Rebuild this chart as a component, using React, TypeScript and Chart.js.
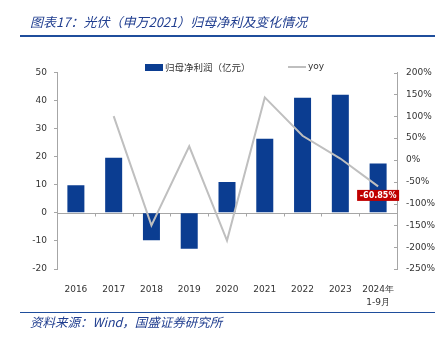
import React, { useEffect, useRef } from "react";
import { Chart, registerables } from "chart.js";

Chart.register(...registerables);

const categories: (string | string[])[] = [
  "2016", "2017", "2018", "2019", "2020", "2021", "2022", "2023", ["2024年", "1-9月"],
];
const profit = [9.8, 19.6, -9.8, -12.8, 11.0, 26.4, 41.0, 42.1, 17.6];
const yoy: (number | null)[] = [null, 100, -150, 31, -185, 143, 55, 3, -60.85];
const lastLabel = "-60.85%";

const BAR = "#0B3D91";
const AXIS = "#A6A6A6";
const TXT = "#333333";
const TICKF = { family: "DejaVu Sans", size: 9 };

const decorPlugin = {
  id: "decor",
  beforeDatasetsDraw(chart: any) {
    const { ctx, chartArea, scales } = chart;
    const y0 = Math.round(scales.y.getPixelForValue(0)) + 0.5;
    ctx.save();
    ctx.strokeStyle = AXIS;
    ctx.lineWidth = 1;
    ctx.beginPath();
    ctx.moveTo(chartArea.left, y0);
    ctx.lineTo(chartArea.right, y0);
    const n = categories.length;
    const step = (chartArea.right - chartArea.left) / n;
    for (let k = 1; k < n; k++) {
      const x = Math.round(chartArea.left + step * k) + 0.5;
      ctx.moveTo(x, y0);
      ctx.lineTo(x, y0 + 3);
    }
    // inward ticks on right axis
    const y1 = scales.y1;
    y1.ticks.forEach((t: any) => {
      const yy = Math.round(y1.getPixelForValue(t.value)) + 0.5;
      ctx.moveTo(chartArea.right - 3, yy);
      ctx.lineTo(chartArea.right, yy);
    });
    ctx.stroke();
    ctx.restore();
  },
  afterDatasetsDraw(chart: any) {
    const { ctx } = chart;
    const meta = chart.getDatasetMeta(1);
    const pt = meta.data[meta.data.length - 1];
    if (!pt) return;
    const w = 42, h = 11;
    const x = pt.x - w / 2;
    const y = pt.y + 3.5;
    ctx.save();
    ctx.fillStyle = "#C00000";
    ctx.fillRect(x, y, w, h);
    ctx.fillStyle = "#FFFFFF";
    ctx.font = "bold 8px 'DejaVu Sans'";
    ctx.textAlign = "center";
    ctx.textBaseline = "middle";
    ctx.fillText(lastLabel, pt.x, y + h / 2 + 0.5);
    ctx.restore();
  },
};

export default function App() {
  const ref = useRef<HTMLCanvasElement>(null);
  useEffect(() => {
    if (!ref.current) return;
    const chart = new Chart(ref.current, {
      type: "bar",
      data: {
        labels: categories as any,
        datasets: [
          {
            type: "bar",
            label: "归母净利润（亿元）",
            data: profit,
            backgroundColor: BAR,
            yAxisID: "y",
            barPercentage: 0.45,
            categoryPercentage: 1,
            order: 1,
          },
          {
            type: "line",
            label: "yoy",
            data: yoy as any,
            borderColor: "#BFBFBF",
            borderWidth: 2,
            pointRadius: 0,
            tension: 0,
            yAxisID: "y1",
            order: 0,
          },
        ],
      },
      options: {
        responsive: false,
        animation: false,
        layout: { padding: { top: 72.5, left: 0, right: 0, bottom: 0 } },
        plugins: { legend: { display: false }, tooltip: { enabled: false }, title: { display: false } },
        scales: {
          x: {
            grid: { display: false },
            border: { display: false },
            ticks: { font: { ...TICKF, lineHeight: 1.45 }, color: TXT, padding: 6, maxRotation: 0, autoSkip: false },
            afterFit: (s: any) => { s.height = 69; },
          },
          y: {
            position: "left",
            min: -20,
            max: 50,
            ticks: { stepSize: 10, font: TICKF, color: TXT, padding: 7 },
            grid: { drawOnChartArea: false, tickLength: 3, color: AXIS },
            border: { color: AXIS },
            afterFit: (s: any) => { s.width = 57; },
          },
          y1: {
            position: "right",
            min: -250,
            max: 200,
            ticks: { stepSize: 50, font: TICKF, color: TXT, padding: 9, callback: (v: any) => v + "%" },
            grid: { drawOnChartArea: false, drawTicks: false, color: AXIS },
            border: { color: AXIS },
            afterFit: (s: any) => { s.width = 43; },
          },
        },
      },
      plugins: [decorPlugin],
    });
    return () => chart.destroy();
  }, []);

  const blue = "#1F3D8F";
  return (
    <div style={{ position: "fixed", left: 0, top: 0, width: 440, height: 338, background: "#fff", overflow: "hidden" }}>
      <canvas ref={ref} width={440} height={338} style={{ position: "absolute", left: 0, top: 0 }} />
      <div style={{ position: "absolute", left: 30, top: 13, fontFamily: "'Noto Sans CJK SC'", fontStyle: "italic", fontSize: 13, lineHeight: "18px", color: blue, whiteSpace: "nowrap" }}>
        图表17：光伏（申万2021）归母净利及变化情况
      </div>
      <div style={{ position: "absolute", left: 20, top: 35, width: 415, height: 1.5, background: "#1F4E9C" }} />
      <div style={{ position: "absolute", left: 145, top: 64, width: 18, height: 6.5, background: BAR }} />
      <div style={{ position: "absolute", left: 165, top: 60, fontFamily: "'Noto Sans CJK SC'", fontSize: 9.5, lineHeight: "14px", color: TXT, whiteSpace: "nowrap" }}>
        归母净利润（亿元）
      </div>
      <div style={{ position: "absolute", left: 288, top: 66, width: 18, height: 1.5, background: "#BFBFBF" }} />
      <div style={{ position: "absolute", left: 308, top: 60, fontFamily: "'DejaVu Sans'", fontSize: 9, lineHeight: "12px", color: TXT, whiteSpace: "nowrap" }}>
        yoy
      </div>
      <div style={{ position: "absolute", left: 20, top: 311.5, width: 415, height: 1.5, background: "#1F4E9C" }} />
      <div style={{ position: "absolute", left: 30, top: 313, fontFamily: "'Noto Sans CJK SC'", fontStyle: "italic", fontSize: 12.5, lineHeight: "18px", color: blue, whiteSpace: "nowrap" }}>
        资料来源：Wind，国盛证券研究所
      </div>
    </div>
  );
}
